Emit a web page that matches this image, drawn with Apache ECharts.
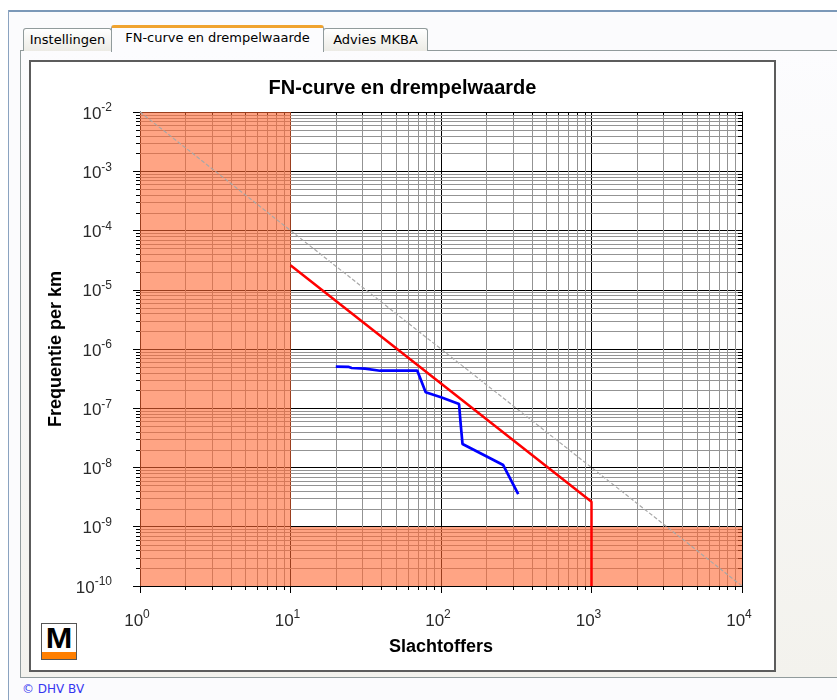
<!DOCTYPE html>
<html>
<head>
<meta charset="utf-8">
<title>FN-curve en drempelwaarde</title>
<script src="https://cdn.jsdelivr.net/npm/echarts@6/dist/echarts.min.js"></script>
<style>
  html, body { margin:0; padding:0; width:837px; height:700px; overflow:hidden; background:#ffffff; font-family:"DejaVu Sans", sans-serif; }
  .abs { position:absolute; box-sizing:border-box; }
  #winTop { left:8px; top:10px; width:829px; height:2px; background:#7b98b8; }
  #winLeft { left:8px; top:10px; width:1px; height:690px; background:#8aa3c0; }
  #winBg { left:9px; top:12px; width:828px; height:688px; background:#fbfbfd; }
  #panel { left:20px; top:50px; width:830px; height:628px; border:1px solid #919b9c; border-right:none;
           background:linear-gradient(#fcfcfe, #f3f2ed); }
  .tab { top:28px; height:23px; border:1px solid #919b9c; border-bottom:none; border-radius:3px 3px 0 0;
         background:linear-gradient(#ffffff, #ecebe5); font-size:13px; color:#000; text-align:center; line-height:22px; white-space:nowrap; }
  #tab1 { left:23px; width:89px; }
  #tab3 { left:323px; width:105px; }
  #tab2 { left:111px; top:25px; width:213px; height:27px; background:#fcfcfe; border-top:3px solid #f0a32f; line-height:20px; z-index:2; }
  #box { left:29px; top:60px; width:747px; height:612px; border:2px solid #5c5c5c; background:#ffffff; }
  #chart { position:absolute; left:31px; top:62px; width:743px; height:608px; z-index:3; }
  #logo { left:41px; top:623px; width:36px; height:37px; border:1px solid #555; background:#fff; z-index:4; overflow:hidden; }
  #logo .m { position:absolute; left:0; top:-1px; width:34px; text-align:center; font-family:"Liberation Sans", Arial, sans-serif; font-weight:900; font-size:29px; line-height:30px; color:#000; transform:scaleX(1.1); }
  #logo .bar { position:absolute; left:0; bottom:0; width:34px; height:7px; background:#ff7f00; }
  #copy { left:22px; top:682px; font-size:12px; color:#3535f0; white-space:nowrap; }
</style>
</head>
<body>
<div id="winBg" class="abs"></div>
<div id="winTop" class="abs"></div>
<div id="winLeft" class="abs"></div>
<div id="panel" class="abs"></div>
<div id="tab1" class="abs tab">Instellingen</div>
<div id="tab2" class="abs tab">FN-curve en drempelwaarde</div>
<div id="tab3" class="abs tab">Advies MKBA</div>
<div id="box" class="abs"></div>
<div id="chart"></div>
<div id="logo" class="abs"><div class="m">M</div><div class="bar"></div></div>
<div id="copy" class="abs">© DHV BV</div>
<script>
// ---- data ----
const xRange = [1, 10000];
const yRange = [1e-10, 1e-2];
const xDecades = [1, 10, 100, 1000];
const yDecades = [1e-10, 1e-9, 1e-8, 1e-7, 1e-6, 1e-5, 1e-4, 1e-3];
const minorFactors = [2, 3, 4, 5, 6, 7, 8, 9];

// threshold (red) line
const limitX = [10, 1000, 1000];
const limitY = [2.6e-5, 2.65e-9, 1e-10];

// FN-curve (blue)
const fnX = [20, 24.2, 25.5, 31.3, 39.3, 69.6, 79.1, 100, 131.8, 135, 139, 259, 326];
const fnY = [5.03e-7, 5.0e-7, 4.78e-7, 4.65e-7, 4.3e-7, 4.3e-7, 1.86e-7, 1.53e-7, 1.18e-7, 5.57e-8, 2.49e-8, 1.1e-8, 3.57e-9];

// guide (grey dashed) line
const guideX = [1, 10000];
const guideY = [1e-2, 1e-10];

// shaded zones: [xFrom, yFrom, xTo, yTo]
const shadeRects = [
  [1, 1e-9, 10, 1e-2],
  [1, 1e-10, 10000, 1e-9]
];

// ---- build ----
const FONT = '"Liberation Sans", Arial, sans-serif';
const pairs = (xs, ys) => xs.map((x, i) => [x, ys[i]]);

const minorData = [];
xDecades.forEach(d => minorFactors.forEach(f => minorData.push([d * f, yRange[1], 0])));
yDecades.forEach(d => minorFactors.forEach(f => minorData.push([xRange[0], d * f, 1])));

const expFormatter = v => '{b|10}{s|' + Math.round(Math.log10(v)) + '}';
const labelRich = {
  b: { fontSize: 17, fontFamily: FONT, color: '#2a2a2a', lineHeight: 24 },
  s: { fontSize: 12, fontFamily: FONT, color: '#2a2a2a', lineHeight: 6, verticalAlign: 'top' }
};

const blackLine = { color: '#000', width: 1 };

const chart = echarts.init(document.getElementById('chart'), null, { renderer: 'canvas' });
chart.setOption({
  animation: false,
  backgroundColor: 'transparent',
  title: {
    text: 'FN-curve en drempelwaarde',
    left: 'center',
    top: 11,
    textStyle: { fontFamily: FONT, fontSize: 20, fontWeight: 'bold', color: '#000' }
  },
  grid: { left: 109, top: 50, width: 602, height: 474, containLabel: false, outerBoundsMode: 'none' },
  xAxis: [
    {
      type: 'log', logBase: 10, min: xRange[0], max: xRange[1], splitNumber: 4, position: 'bottom',
      axisLine: { show: true, onZero: false, lineStyle: blackLine },
      axisTick: { show: true, length: 7, lineStyle: blackLine },
      axisLabel: { margin: 23, formatter: expFormatter, rich: labelRich, padding: [0, 6, 0, 0] },
      splitLine: { show: true, lineStyle: blackLine },
      name: 'Slachtoffers', nameLocation: 'middle', nameGap: 52,
      nameTextStyle: { fontFamily: FONT, fontSize: 18, fontWeight: 'bold', color: '#000' }
    },
    {
      type: 'log', logBase: 10, min: xRange[0], max: xRange[1], splitNumber: 4, position: 'top',
      axisLine: { show: true, onZero: false, lineStyle: blackLine },
      axisTick: { show: true, inside: true, length: 7, lineStyle: blackLine },
      axisLabel: { show: false }, splitLine: { show: false }
    }
  ],
  yAxis: [
    {
      type: 'log', logBase: 10, min: yRange[0], max: yRange[1], splitNumber: 8, position: 'left',
      axisLine: { show: true, onZero: false, lineStyle: blackLine },
      axisTick: { show: true, length: 7, lineStyle: blackLine },
      axisLabel: { margin: 28, formatter: expFormatter, rich: labelRich, padding: [4, 0, 0, 0] },
      splitLine: { show: true, lineStyle: blackLine },
      name: 'Frequentie per km', nameLocation: 'middle', nameGap: 64, nameRotate: 90,
      nameTextStyle: { fontFamily: FONT, fontSize: 18, fontWeight: 'bold', color: '#000' }
    },
    {
      type: 'log', logBase: 10, min: yRange[0], max: yRange[1], splitNumber: 8, position: 'right',
      axisLine: { show: true, onZero: false, lineStyle: blackLine },
      axisTick: { show: true, inside: true, length: 7, lineStyle: blackLine },
      axisLabel: { show: false }, splitLine: { show: false }
    }
  ],
  series: [
    {
      name: 'minor grid', type: 'custom', silent: true, z: 1, xAxisIndex: 0, yAxisIndex: 0,
      encode: { x: 0, y: 1 },
      data: minorData,
      renderItem: (params, api) => {
        const kind = api.value(2);
        const grey = '#939393';
        if (kind === 0) {
          const v = api.value(0);
          const t = api.coord([v, yRange[1]]), b = api.coord([v, yRange[0]]);
          const x = Math.round(t[0]) + 0.5, y1 = Math.round(t[1]), y2 = Math.round(b[1]);
          return { type: 'group', children: [
            { type: 'line', shape: { x1: x, y1: y1, x2: x, y2: y2 }, style: { stroke: grey, lineWidth: 1 } },
            { type: 'line', shape: { x1: x, y1: y2, x2: x, y2: y2 + 4 }, style: { stroke: '#000', lineWidth: 1 } },
            { type: 'line', shape: { x1: x, y1: y1, x2: x, y2: y1 + 4 }, style: { stroke: '#000', lineWidth: 1 } }
          ] };
        } else {
          const v = api.value(1);
          const l = api.coord([xRange[0], v]), r = api.coord([xRange[1], v]);
          const y = Math.round(l[1]) + 0.5, x1 = Math.round(l[0]), x2 = Math.round(r[0]);
          return { type: 'group', children: [
            { type: 'line', shape: { x1: x1, y1: y, x2: x2, y2: y }, style: { stroke: grey, lineWidth: 1 } },
            { type: 'line', shape: { x1: x1 - 4, y1: y, x2: x1, y2: y }, style: { stroke: '#000', lineWidth: 1 } },
            { type: 'line', shape: { x1: x2 - 4, y1: y, x2: x2, y2: y }, style: { stroke: '#000', lineWidth: 1 } }
          ] };
        }
      }
    },
    {
      name: 'zones', type: 'custom', silent: true, z: 2, xAxisIndex: 0, yAxisIndex: 0,
      encode: { x: [0, 2], y: [1, 3] },
      data: shadeRects,
      renderItem: (params, api) => {
        const p1 = api.coord([api.value(0), api.value(3)]);
        const p2 = api.coord([api.value(2), api.value(1)]);
        const x = Math.round(p1[0]), y = Math.round(p1[1]);
        return { type: 'rect', shape: { x: x, y: y, width: Math.round(p2[0]) - x, height: Math.round(p2[1]) - y },
                 style: { fill: 'rgba(255,104,50,0.6)' } };
      }
    },
    {
      name: 'orientatiewaarde', type: 'line', z: 3, symbol: 'none', silent: true,
      data: pairs(guideX, guideY),
      lineStyle: { color: '#a8a8a8', width: 1.2, type: [4, 2] }
    },
    {
      name: 'drempelwaarde', type: 'line', z: 4, symbol: 'none', silent: true,
      data: pairs(limitX, limitY),
      lineStyle: { color: '#ff0000', width: 2.5 }
    },
    {
      name: 'FN-curve', type: 'line', z: 5, symbol: 'none', silent: true,
      data: pairs(fnX, fnY),
      lineStyle: { color: '#0000ff', width: 2.7 }
    }
  ]
});
</script>
</body>
</html>
